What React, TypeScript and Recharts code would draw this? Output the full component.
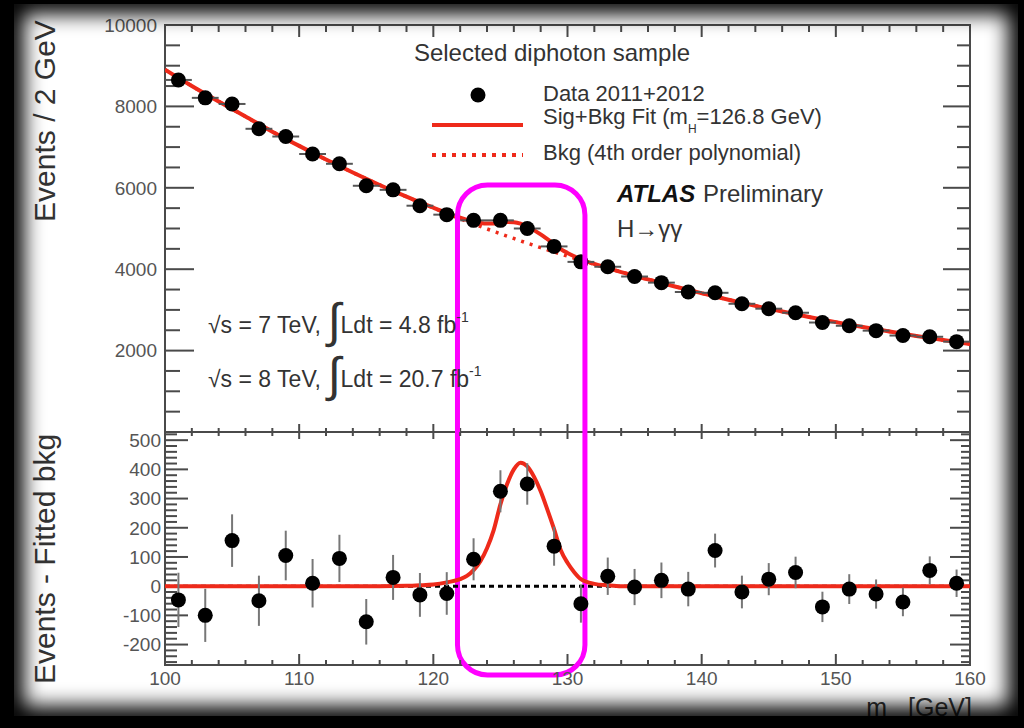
import React from 'react';
import {
  ComposedChart,
  Line,
  Scatter,
  XAxis,
  YAxis,
  ErrorBar,
  ReferenceLine,
  ReferenceArea,
} from 'recharts';

// ---------- data ----------
const massBins = [101, 103, 105, 107, 109, 111, 113, 115, 117, 119, 121, 123, 125, 127, 129, 131, 133, 135, 137, 139, 141, 143, 145, 147, 149, 151, 153, 155, 157, 159];
const events = [8650, 8210, 8060, 7450, 7260, 6830, 6590, 6050, 5950, 5560, 5340, 5200, 5200, 5000, 4560, 4180, 4060, 3820, 3670, 3440, 3420, 3150, 3030, 2930, 2690, 2610, 2490, 2370, 2340, 2220];
const eventErr = [93, 91, 90, 86, 85, 83, 81, 78, 77, 75, 73, 72, 72, 71, 67, 65, 64, 62, 61, 59, 58, 56, 55, 54, 52, 51, 50, 49, 48, 47];
const residuals = [-47, -100, 156, -50, 105, 10, 95, -122, 30, -30, -25, 92, 325, 350, 137, -60, 34, -3, 20, -10, 122, -20, 24, 47, -71, -10, -27, -54, 54, 10];

const fitMass = [100, 102, 104, 106, 108, 110, 112, 114, 116, 118, 119, 120, 121, 122, 122.5, 123, 123.5, 124, 124.5, 125, 125.5, 126, 126.5, 127, 127.5, 128, 128.5, 129, 129.5, 130, 130.5, 131, 132, 133, 134, 136, 138, 140, 142, 144, 146, 148, 150, 152, 154, 156, 158, 160];
const bkgFit = [8900, 8500, 8120, 7750, 7380, 7030, 6695, 6375, 6070, 5780, 5640, 5505, 5370, 5240, 5177, 5115, 5052, 4990, 4930, 4870, 4812, 4755, 4697, 4640, 4585, 4530, 4477, 4425, 4372, 4320, 4270, 4220, 4120, 4025, 3930, 3750, 3575, 3410, 3250, 3100, 2960, 2825, 2700, 2580, 2470, 2360, 2260, 2160];
const sigFit = [0, 0, 0, 0, 0, 0, 0, 0, 0, 1, 3, 6, 13, 24, 35, 55, 85, 130, 192, 280, 350, 400, 423, 410, 375, 325, 262, 195, 123, 80, 48, 24, 8, 3, 0, 0, 0, 0, 0, 0, 0, 0, 0, 0, 0, 0, 0, 0];

const xTickLabels = [100, 110, 120, 130, 140, 150, 160];
const topYTickLabels = [2000, 4000, 6000, 8000, 10000];
const botYTickLabels = [-200, -100, 0, 100, 200, 300, 400, 500];

const xDomain: [number, number] = [100, 160];
const topDomain: [number, number] = [0, 10000];
const botDomain: [number, number] = [-270, 528];

// highlighted mass window (magenta box), in data units
const boxMass = [121.8, 131.3];
const boxResid = [-304, 1374];

// ---------- derived tables ----------
const topPoints = massBins.map((m, i) => ({ m, n: events[i], en: eventErr[i], ex: 1 }));
const botPoints = massBins.map((m, i) => ({ m, r: residuals[i], er: eventErr[i] }));
const fitTable = fitMass.map((m, i) => ({ m, bkg: bkgFit[i], fit: bkgFit[i] + sigFit[i], sig: sigFit[i] }));

const range = (a: number, b: number, s: number) => {
  const out: number[] = [];
  for (let v = a; v <= b + 1e-9; v += s) out.push(Math.round(v * 1000) / 1000);
  return out;
};
const topMinorY = range(500, 9500, 500);
const botMinorY = range(-260, 520, 20);
const xMinor = range(102, 158, 2);

const RED = '#ee2a1a';
const TICK = '#4a4a4a';
const FONT = '"Liberation Sans", Arial, Helvetica, sans-serif';

function yTickShape(lenL: number, lenR: number) {
  return (p: any) => {
    const l = Math.min(p.x1, p.x2);
    const r = Math.max(p.x1, p.x2);
    const y = p.y1;
    return (
      <g>
        <line x1={l} y1={y} x2={l + lenL} y2={y} stroke={TICK} strokeWidth={2} />
        <line x1={r - lenR} y1={y} x2={r} y2={y} stroke={TICK} strokeWidth={2} />
      </g>
    );
  };
}
function xTickShape(lenTop: number, lenBottom: number) {
  return (p: any) => {
    const t = Math.min(p.y1, p.y2);
    const b = Math.max(p.y1, p.y2);
    const x = p.x1;
    return (
      <g>
        <line x1={x} y1={t} x2={x} y2={t + lenTop} stroke={TICK} strokeWidth={2} />
        <line x1={x} y1={b - lenBottom} x2={x} y2={b} stroke={TICK} strokeWidth={2} />
      </g>
    );
  };
}

const dot = (r: number) => (p: any) => <circle cx={p.cx} cy={p.cy} r={r} fill="#000" />;

const roundedBox = (p: any) => (
  <rect
    x={p.x}
    y={p.y}
    width={p.width}
    height={p.height}
    rx={30}
    ry={30}
    fill="none"
    stroke="#ff00ff"
    strokeWidth={5}
  />
);

const tickStyle = { fill: '#555', fontSize: 19, fontFamily: FONT };

export default function App() {
  return (
    <div
      style={{
        position: 'fixed',
        left: 0,
        top: 0,
        width: 1024,
        height: 728,
        background: '#000',
        overflow: 'hidden',
        fontFamily: FONT,
      }}
    >
      <style>{`.recharts-surface{overflow:visible !important}.recharts-wrapper{overflow:visible !important}`}</style>
      <div style={{ position: 'absolute', left: 14, top: 4, width: 1004, height: 712, background: '#fff' }} />

      {/* top panel */}
      <div style={{ position: 'absolute', left: 0, top: 0 }}>
        <ComposedChart width={1024} height={432} margin={{ top: 25, right: 54, bottom: 0, left: 95 }}>
          <XAxis type="number" dataKey="m" domain={xDomain} allowDataOverflow hide />
          <YAxis
            type="number"
            domain={topDomain}
            allowDataOverflow
            ticks={topYTickLabels}
            interval={0}
            width={70}
            tickSize={0}
            tickMargin={8}
            axisLine={false}
            tickLine={false}
            tick={tickStyle}
          />
          {topMinorY.map((v) => (
            <ReferenceLine key={'ty' + v} y={v} shape={v % 2000 === 0 ? yTickShape(29, 27) : yTickShape(15, 13)} />
          ))}
          {xMinor.map((v) => (
            <ReferenceLine key={'tx' + v} x={v} shape={v % 10 === 0 ? xTickShape(12, 8) : xTickShape(7, 4)} />
          ))}
          <Line data={fitTable} dataKey="bkg" stroke={RED} strokeWidth={3.5} strokeDasharray="3 6" dot={false} type="monotone" isAnimationActive={false} />
          <Line data={fitTable} dataKey="fit" stroke={RED} strokeWidth={4} dot={false} type="monotone" isAnimationActive={false} />
          <Scatter data={topPoints} dataKey="n" shape={dot(7.5)} isAnimationActive={false}>
            <ErrorBar dataKey="ex" direction="x" width={0} stroke="#555" strokeWidth={2} />
            <ErrorBar dataKey="en" direction="y" width={0} stroke="#555" strokeWidth={2} />
          </Scatter>
          <ReferenceArea x1={xDomain[0]} x2={xDomain[1]} y1={topDomain[0]} y2={topDomain[1]} ifOverflow="visible" fill="none" stroke={TICK} strokeWidth={2} />
        </ComposedChart>
      </div>

      {/* bottom panel */}
      <div style={{ position: 'absolute', left: 0, top: 432 }}>
        <ComposedChart width={1024} height={296} margin={{ top: 0, right: 54, bottom: 23, left: 95 }}>
          <XAxis
            type="number"
            dataKey="m"
            domain={xDomain}
            allowDataOverflow
            ticks={xTickLabels}
            interval={0}
            height={40}
            tickSize={0}
            tickMargin={7}
            axisLine={false}
            tickLine={false}
            tick={tickStyle}
          />
          <YAxis
            type="number"
            domain={botDomain}
            allowDataOverflow
            ticks={botYTickLabels}
            interval={0}
            width={70}
            tickSize={0}
            tickMargin={4}
            axisLine={false}
            tickLine={false}
            tick={tickStyle}
          />
          {botMinorY.map((v) => (
            <ReferenceLine key={'by' + v} y={v} shape={v % 100 === 0 ? yTickShape(23, 20) : yTickShape(12, 9)} />
          ))}
          {xMinor.map((v) => (
            <ReferenceLine key={'bx' + v} x={v} shape={v % 10 === 0 ? xTickShape(7, 11) : xTickShape(4, 5)} />
          ))}
          <ReferenceLine y={0} stroke="#000" strokeWidth={3} strokeDasharray="5 4" />
          <Line data={fitTable} dataKey="sig" stroke={RED} strokeWidth={4} dot={false} type="monotone" isAnimationActive={false} />
          <Scatter data={botPoints} dataKey="r" shape={dot(7.5)} isAnimationActive={false}>
            <ErrorBar dataKey="er" direction="y" width={0} stroke="#777" strokeWidth={2} />
          </Scatter>
          <ReferenceArea x1={xDomain[0]} x2={xDomain[1]} y1={botDomain[0]} y2={botDomain[1]} ifOverflow="visible" fill="none" stroke={TICK} strokeWidth={2} />
          <ReferenceArea x1={boxMass[0]} x2={boxMass[1]} y1={boxResid[0]} y2={boxResid[1]} ifOverflow="visible" shape={roundedBox} />
        </ComposedChart>
      </div>

      {/* annotations */}
      <svg width={1024} height={728} style={{ position: 'absolute', left: 0, top: 0, pointerEvents: 'none' }} fontFamily={FONT}>
        <text x={55} y={121} transform="rotate(-90 55 121)" textAnchor="middle" fontSize={30} fill="#333">Events / 2 GeV</text>
        <text x={55} y={559} transform="rotate(-90 55 559)" textAnchor="middle" fontSize={30} fill="#333">Events - Fitted bkg</text>

        <text x={552} y={61} textAnchor="middle" fontSize={24} fill="#333">Selected diphoton sample</text>

        <circle cx={478} cy={95} r={7.5} fill="#000" />
        <text x={543} y={101} fontSize={22} fill="#333">Data 2011+2012</text>
        <line x1={432} y1={125} x2={523} y2={125} stroke={RED} strokeWidth={4} />
        <text x={543} y={124} fontSize={22} fill="#333">
          Sig+Bkg Fit (m<tspan fontSize={12} dy={9}>H</tspan>
          <tspan dy={-9}>=126.8 GeV)</tspan>
        </text>
        <line x1={432} y1={155} x2={523} y2={155} stroke={RED} strokeWidth={4} strokeDasharray="4 6" />
        <text x={543} y={160} fontSize={22} fill="#333">Bkg (4th order polynomial)</text>

        <text x={617} y={202} fontSize={24} fontWeight="bold" fontStyle="italic" fill="#111">ATLAS</text>
        <text x={703} y={202} fontSize={24} fill="#333">Preliminary</text>
        <text x={617} y={237} fontSize={24} fill="#333">H→γγ</text>

        <text x={208} y={333} fontSize={23} fill="#333">
          √s = 7 TeV, <tspan fontSize={48} dy={4}>∫</tspan>
          <tspan dy={-4}>Ldt = 4.8 fb</tspan>
          <tspan fontSize={14} dy={-11}>-1</tspan>
        </text>
        <text x={208} y={387} fontSize={23} fill="#333">
          √s = 8 TeV, <tspan fontSize={48} dy={4}>∫</tspan>
          <tspan dy={-4}>Ldt = 20.7 fb</tspan>
          <tspan fontSize={14} dy={-11}>-1</tspan>
        </text>

        <text x={972} y={716} textAnchor="end" fontSize={25} fill="#333">
          m<tspan fontSize={14} dy={8}>γγ</tspan>
          <tspan dy={-8}>  [GeV]</tspan>
        </text>
      </svg>

      {/* vignette frame */}
      <div
        style={{
          position: 'absolute',
          left: 14,
          top: 4,
          width: 1004,
          height: 712,
          boxShadow: 'inset 0 0 20px 10px #000, 0 0 0 80px #000',
          pointerEvents: 'none',
        }}
      />
    </div>
  );
}
